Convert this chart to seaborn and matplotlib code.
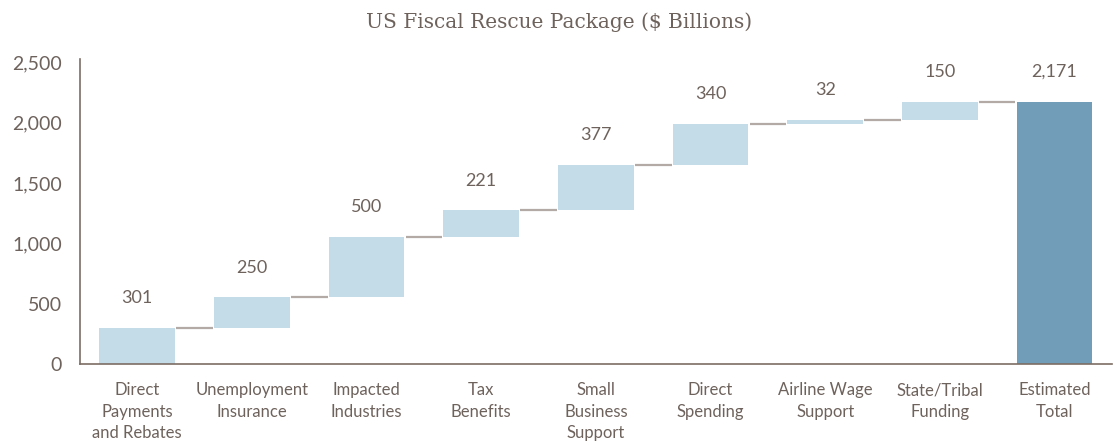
import numpy as np
import pandas as pd
import matplotlib
matplotlib.use("Agg")
import matplotlib.pyplot as plt
import seaborn as sns

# Components of the package, $ billions
categories = [
    "Direct\nPayments\nand Rebates",
    "Unemployment\nInsurance",
    "Impacted\nIndustries",
    "Tax\nBenefits",
    "Small\nBusiness\nSupport",
    "Direct\nSpending",
    "Airline Wage\nSupport",
    "State/Tribal\nFunding",
    "Estimated\nTotal",
]
components = [301, 250, 500, 221, 377, 340, 32, 150]
total = 2171
yticks = [0, 500, 1000, 1500, 2000, 2500]

sns.set_theme(style="white")
plt.rcParams["font.family"] = ["Lato", "DejaVu Sans"]

text_color = "#6e625c"
spine_color = "#7d6d65"
step_color = "#c4dbe8"
total_color = "#729db8"
connector_color = "#b3aaa5"

# waterfall geometry: each step floats on the running sum
tops = np.cumsum(components)
bottoms = np.concatenate([[0], tops[:-1], [0]])
heights = np.concatenate([components, [total]])
ends = np.concatenate([tops, [total]])

df = pd.DataFrame({"category": categories, "amount": heights})

fig = plt.figure(figsize=(11.14, 4.42), dpi=100)
ax = fig.add_axes([0.0718, 0.1765, 0.9262, 0.6909])

bar_width = 0.66
sns.barplot(data=df, x="category", y="amount", order=categories,
            color=step_color, saturation=1, width=bar_width,
            errorbar=None, bottom=bottoms, linewidth=0, ax=ax)
ax.patches[-1].set_facecolor(total_color)

# connectors between consecutive bars at the running total
half = bar_width / 2
for i, level in enumerate(ends[:-1]):
    ax.hlines(level, i + half + 0.01, i + 1 - half - 0.01,
              color=connector_color, linewidth=1.6)

# value labels above each bar
for i, (val, top) in enumerate(zip(heights, ends)):
    ax.annotate(f"{val:,}", xy=(i, top), xytext=(0, 21.5),
                textcoords="offset points", ha="center", va="center",
                fontsize=13, color=text_color)

ax.set_xlim(-0.5, len(categories) - 0.5)
ax.set_ylim(0, 2530)
ax.set_yticks(yticks)
ax.set_yticklabels([f"{t:,}" for t in yticks])
ax.set_xlabel("")
ax.set_ylabel("")
ax.tick_params(axis="y", length=0, pad=13, labelsize=14, labelcolor=text_color)
ax.tick_params(axis="x", length=0, pad=13, labelsize=12, labelcolor=text_color)
for lbl in ax.get_xticklabels():
    lbl.set_linespacing(1.42)

for side in ("top", "right"):
    ax.spines[side].set_visible(False)
for side in ("left", "bottom"):
    ax.spines[side].set_color(spine_color)
    ax.spines[side].set_linewidth(1.2)

fig.text(0.502, 0.95, "US Fiscal Rescue Package ($ Billions)",
         ha="center", va="center", fontsize=14.5, color=text_color,
         family=["DejaVu Serif"])

fig.savefig("out.png", dpi=100)
